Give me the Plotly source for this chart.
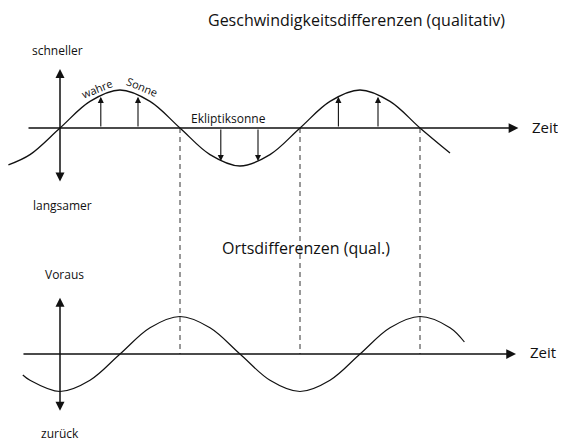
import plotly.graph_objects as go

# Geschwindigkeitsdifferenzen: time in half periods, value in amplitudes
speed_t = [-0.43, -0.25, 0, 0.25, 0.5, 0.75, 1, 1.25, 1.5, 1.75, 2, 2.25, 2.5, 2.75, 3, 3.25]
speed_v = [-0.97, -0.7, 0, 0.7, 1, 0.7, 0, -0.7, -1, -0.7, 0, 0.7, 1, 0.7, 0, -0.66]

# Ortsdifferenzen
pos_t = [-0.31, -0.25, 0, 0.25, 0.5, 0.75, 1, 1.25, 1.5, 1.75, 2, 2.25, 2.5, 2.75, 3, 3.25, 3.37]
pos_v = [-0.56, -0.7, -1, -0.7, 0, 0.7, 1, 0.7, 0, -0.7, -1, -0.7, 0, 0.7, 1, 0.7, 0.32]

# small arrows between Ekliptiksonne and wahre Sonne
arrow_t = [0.34, 0.65, 1.34, 1.65, 2.32, 2.65]
arrow_v = [0.82, 0.82, -0.87, -0.87, 0.82, 0.82]

# dashed connectors at the zero crossings
cross_t = [1, 2, 3]

FONT = "Open Sans"
INK = "#111"

fig = go.Figure()

fig.add_trace(go.Scatter(x=speed_t, y=speed_v, mode="lines", yaxis="y",
                         line=dict(color=INK, width=1.3, shape="spline", smoothing=1.0),
                         hoverinfo="skip", showlegend=False))
fig.add_trace(go.Scatter(x=pos_t, y=pos_v, mode="lines", yaxis="y2",
                         line=dict(color=INK, width=1.2, shape="spline", smoothing=1.0),
                         hoverinfo="skip", showlegend=False))

ann = []

def arrow(x, y, ax, ay, yref, head=2, side="end", size=1.0, width=1.3):
    ann.append(dict(x=x, y=y, ax=ax, ay=ay, xref="x", yref=yref, axref="x", ayref=yref,
                    text="", showarrow=True, arrowhead=head, arrowside=side,
                    arrowsize=size, arrowwidth=width, arrowcolor=INK, startarrowhead=head,
                    startarrowsize=size))

# axes of the upper diagram
arrow(3.82, 0, -0.275, 0, "y", head=2, size=1.3, width=1.5)
arrow(0, 1.55, 0, -1.45, "y", head=2, side="end+start", size=1.2, width=1.5)
# axes of the lower diagram
arrow(3.8, 0, -0.317, 0, "y2", head=2, size=1.3, width=1.5)
arrow(0, 1.5, 0, -1.55, "y2", head=2, side="end+start", size=1.2, width=1.5)

for t, v in zip(arrow_t, arrow_v):
    arrow(t, v, t, 0, "y", head=2, size=1.1, width=1.1)

def label(text, x, y, yref, size=12, angle=0, anchor="center"):
    ann.append(dict(x=x, y=y, xref="x", yref=yref, text=text, showarrow=False,
                    textangle=angle, xanchor=anchor,
                    font=dict(family=FONT, size=size, color=INK)))

label("Geschwindigkeitsdifferenzen (qualitativ)", 2.47, 2.84, "y", size=16)
label("schneller", -0.025, 2.05, "y", size=12)
label("langsamer", 0.02, -2.03, "y", size=12)
label("wahre", 0.31, 1.03, "y", size=11, angle=-22)
label("Sonne", 0.68, 1.08, "y", size=11, angle=22)
label("Ekliptiksonne", 1.4, 0.26, "y", size=12)
label("Zeit", 3.92, 0.03, "y", size=15, anchor="left")
label("Ortsdifferenzen (qual.)", 2.05, 2.83, "y2", size=16)
label("Voraus", 0.035, 2.13, "y2", size=12)
label("zurück", 0.0, -2.11, "y2", size=12)
label("Zeit", 3.9, 0.05, "y2", size=15, anchor="left")

shapes = [dict(type="line", xref="x", yref="y", x0=t, x1=t, y0=0, y1=-5.947,
               line=dict(color="#333", width=1, dash="5px,4px")) for t in cross_t]

# the page puts the figure 8px in from the corner, so the ranges start 8px early
hidden = dict(visible=False, showgrid=False, zeroline=False, fixedrange=True)
fig.update_layout(
    width=566, height=442,
    margin=dict(l=0, r=0, t=0, b=0),
    paper_bgcolor="white", plot_bgcolor="white",
    xaxis=dict(range=[-0.4333, 4.2833], **hidden),
    yaxis=dict(range=[-8.474, 3.158], domain=[0, 1], **hidden),
    yaxis2=dict(range=[-2.56, 9.227], overlaying="y", **hidden),
    annotations=ann, shapes=shapes,
)

fig.write_html("out.html")
